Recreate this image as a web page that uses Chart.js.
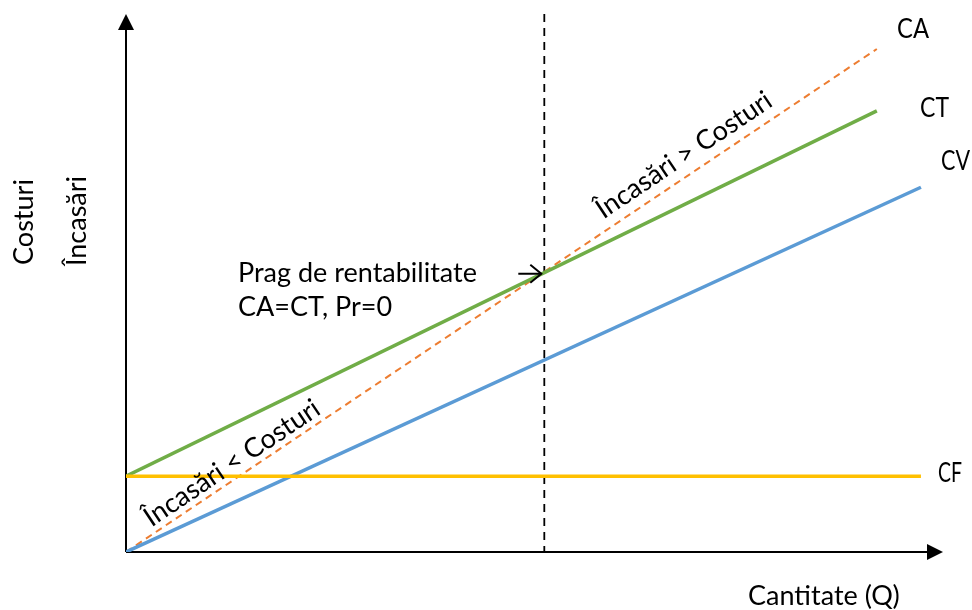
<!DOCTYPE html>
<html>
<head>
<meta charset="utf-8">
<script src="https://cdn.jsdelivr.net/npm/chart.js@4/dist/chart.umd.min.js"></script>
<style>
html,body{margin:0;padding:0;background:#fff;}
canvas{display:block;}
</style>
</head>
<body>
<canvas id="c" width="972" height="610"></canvas>
<script>
// Quantity axis endpoints (start, end) for each line
const qCF = [0, 97.3];
const yCF = [14.1, 14.1];
const qCT = [0, 91.9];
const yCT = [14.1, 82.0];
const qCV = [0, 97.3];
const yCV = [0, 67.8];
const qCA = [0, 91.9];
const yCA = [0, 93.5];
const breakEvenQ = 51.2;
const seriesLabels = ['CF', 'CT', 'CV', 'CA'];

function pts(xs, ys){ return xs.map((x,i)=>({x:x, y:ys[i]})); }

const FONT = 'Lato, "Open Sans", sans-serif';
const FS = 27;

const overlay = {
  id: 'overlay',
  beforeDatasetsDraw(chart){
    const ctx = chart.ctx, xs = chart.scales.x, ys = chart.scales.y;
    const x0 = xs.getPixelForValue(0), y0 = ys.getPixelForValue(0);
    const xT = xs.getPixelForValue(100), yT = ys.getPixelForValue(100);
    ctx.save();
    // break-even vertical dashed line
    const bx = xs.getPixelForValue(breakEvenQ);
    ctx.strokeStyle = '#000'; ctx.lineWidth = 1.8;
    ctx.setLineDash([8,6]);
    ctx.beginPath(); ctx.moveTo(bx, yT); ctx.lineTo(bx, y0); ctx.stroke();
    ctx.setLineDash([]);
    // axes
    ctx.lineWidth = 2;
    ctx.beginPath(); ctx.moveTo(x0, y0); ctx.lineTo(x0, yT + 14); ctx.stroke();
    ctx.beginPath(); ctx.moveTo(x0, y0); ctx.lineTo(xT - 14, y0); ctx.stroke();
    ctx.fillStyle = '#000';
    ctx.beginPath(); ctx.moveTo(x0, yT); ctx.lineTo(x0-8, yT+16); ctx.lineTo(x0+8, yT+16); ctx.closePath(); ctx.fill();
    ctx.beginPath(); ctx.moveTo(xT, y0); ctx.lineTo(xT-16, y0-8); ctx.lineTo(xT-16, y0+8); ctx.closePath(); ctx.fill();
    ctx.restore();
  },
  afterDatasetsDraw(chart){
    const ctx = chart.ctx, xs = chart.scales.x, ys = chart.scales.y;
    const px = v => xs.getPixelForValue(v), py = v => ys.getPixelForValue(v);
    ctx.save();
    ctx.fillStyle = '#000';
    ctx.font = FS + 'px ' + FONT;
    ctx.textBaseline = 'alphabetic';
    ctx.textAlign = 'left';
    // series labels
    ctx.fillText(seriesLabels[3], 897, 38, 32);
    ctx.fillText(seriesLabels[1], 920, 117, 29);
    ctx.fillText(seriesLabels[2], 941, 170, 29);
    ctx.fillText(seriesLabels[0], 938, 482, 24);
    // break-even text
    ctx.fillText('Prag de rentabilitate', 238, 282);
    ctx.fillText('CA=CT, Pr=0', 238, 316);
    ctx.fillText('Cantitate (Q)', 748, 605);
    // arrow to break-even point
    const bx = px(breakEvenQ);
    const byCA = py(yCA[0] + (yCA[1]-yCA[0]) * breakEvenQ / qCA[1]);
    const tipX = bx - 3, tipY = byCA + 2;
    ctx.strokeStyle = '#000'; ctx.lineWidth = 2;
    ctx.beginPath(); ctx.moveTo(tipX - 23, tipY); ctx.lineTo(tipX, tipY); ctx.stroke();
    ctx.beginPath(); ctx.moveTo(tipX - 11, tipY - 9); ctx.lineTo(tipX, tipY); ctx.lineTo(tipX - 11, tipY + 9); ctx.stroke();
    // rotated labels along CA
    const ang = Math.atan2(py(yCA[1]) - py(yCA[0]), px(qCA[1]) - px(qCA[0]));
    ctx.textAlign = 'center'; ctx.textBaseline = 'middle';
    [['Încasări > Costuri', 684, 155], ['Încasări < Costuri', 232, 463]].forEach(([t, x, y]) => {
      ctx.save(); ctx.translate(x, y); ctx.rotate(ang); ctx.fillText(t, 0, 0); ctx.restore();
    });
    // vertical axis titles
    [['Costuri', 24, 222], ['Încasări', 77, 221]].forEach(([t, x, y]) => {
      ctx.save(); ctx.translate(x, y); ctx.rotate(-Math.PI/2); ctx.fillText(t, 0, 0); ctx.restore();
    });
    ctx.restore();
  }
};

new Chart(document.getElementById('c'), {
  type: 'scatter',
  data: {
    datasets: [
      {label: seriesLabels[0], data: pts(qCF, yCF), borderColor: '#FFC000', borderWidth: 3.5},
      {label: seriesLabels[1], data: pts(qCT, yCT), borderColor: '#70AD47', borderWidth: 3.5},
      {label: seriesLabels[2], data: pts(qCV, yCV), borderColor: '#5B9BD5', borderWidth: 3.5},
      {label: seriesLabels[3], data: pts(qCA, yCA), borderColor: '#ED7D31', borderWidth: 2, borderDash: [7,5]}
    ].map(d => Object.assign(d, {showLine: true, pointRadius: 0, fill: false, borderCapStyle: 'butt'}))
  },
  options: {
    responsive: false,
    animation: false,
    devicePixelRatio: 1,
    layout: {padding: {left: 126, right: 29, top: 14, bottom: 58}},
    plugins: {legend: {display: false}, tooltip: {enabled: false}},
    scales: {
      x: {type: 'linear', min: 0, max: 100, display: false},
      y: {type: 'linear', min: 0, max: 100, display: false}
    }
  },
  plugins: [overlay]
});
</script>
</body>
</html>
